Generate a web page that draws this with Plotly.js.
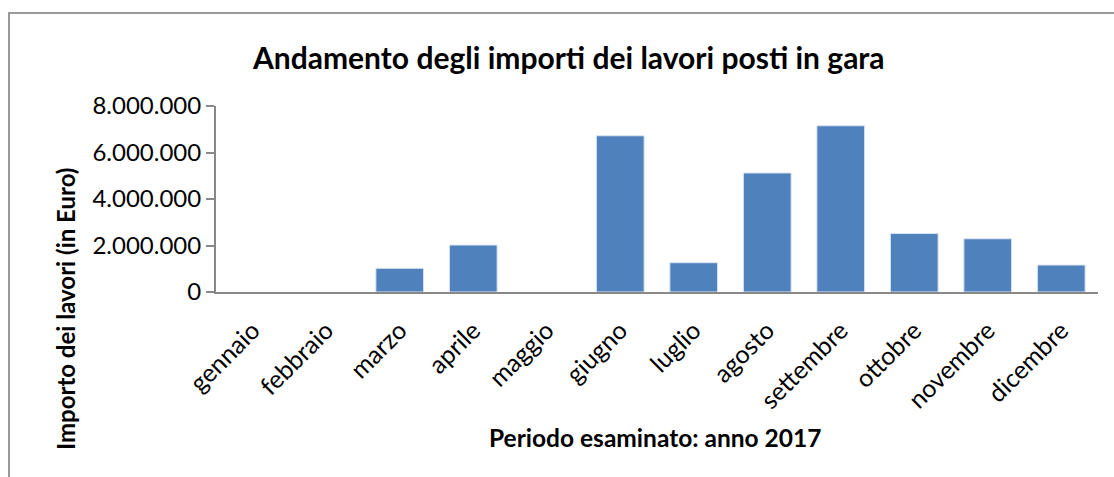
<!DOCTYPE html>
<html>
<head>
<meta charset="utf-8">
<script src="https://cdn.plot.ly/plotly-3.0.1.min.js"></script>
<style>html,body{margin:0;padding:0;background:#fff;}#chart{width:1114px;height:477px;}</style>
</head>
<body>
<div id="chart"></div>
<script>
const months = ["gennaio","febbraio","marzo","aprile","maggio","giugno","luglio","agosto","settembre","ottobre","novembre","dicembre"];
const importi = [0, 0, 1020000, 2020000, 0, 6720000, 1260000, 5120000, 7150000, 2520000, 2290000, 1160000];
const yTicks = [0, 2000000, 4000000, 6000000, 8000000];
const chartTitle = "Andamento degli importi dei lavori posti in gara";
const xTitle = "Periodo esaminato: anno 2017";
const yTitle = "Importo dei lavori (in Euro)";

const FONT = "Lato, 'Open Sans', sans-serif";
const edgeColors = importi.map(v => v > 0 ? "#DCE6F2" : "rgba(0,0,0,0)");

Plotly.newPlot("chart", [{
  type: "bar",
  x: months,
  y: importi,
  marker: {color: "#4F81BD", line: {color: edgeColors, width: 1}},
  hoverinfo: "skip"
}], {
  width: 1114, height: 477,
  margin: {l: 216, r: 16, t: 106, b: 185},
  paper_bgcolor: "#fff", plot_bgcolor: "#fff",
  separators: ",.",
  bargap: 0.35,
  showlegend: false,
  font: {family: FONT, color: "#000"},
  xaxis: {
    type: "category",
    showline: true, linecolor: "#888", linewidth: 2,
    ticks: "", tickangle: -45, tickfont: {size: 25, family: FONT},
    ticklabelstandoff: 12,
    showgrid: false, zeroline: false
  },
  yaxis: {
    range: [0, 8000000], tickvals: yTicks, tickformat: ",d",
    showline: true, linecolor: "#888", linewidth: 2,
    ticks: "outside", ticklen: 8, tickcolor: "#888", tickwidth: 2,
    tickfont: {size: 24, family: FONT},
    showgrid: false, zeroline: false
  },
  annotations: [
    {text: "<b>" + chartTitle + "</b>", xref: "paper", yref: "paper", x: (568 - 216) / 882, y: (292 - 57) / 186, xanchor: "center", yanchor: "middle", showarrow: false, font: {size: 30, family: FONT, color: "#000"}},
    {text: "<b>" + xTitle + "</b>", xref: "paper", yref: "paper", x: (655 - 216) / 882, y: (292 - 437) / 186, xanchor: "center", yanchor: "middle", showarrow: false, font: {size: 24.5, family: FONT, color: "#000"}},
    {text: "<b>" + yTitle + "</b>", xref: "paper", yref: "paper", x: (65 - 216) / 882, y: (292 - 309) / 186, xanchor: "center", yanchor: "middle", textangle: -90, showarrow: false, font: {size: 24, family: FONT, color: "#000"}}
  ],
  shapes: [{type: "rect", xref: "paper", yref: "paper", x0: (9 - 216) / 882, x1: 1.2, y0: -1.2, y1: (292 - 13) / 186, line: {color: "#999", width: 2}, fillcolor: "rgba(0,0,0,0)", layer: "below"}]
}, {displayModeBar: false, staticPlot: true});
</script>
</body>
</html>
